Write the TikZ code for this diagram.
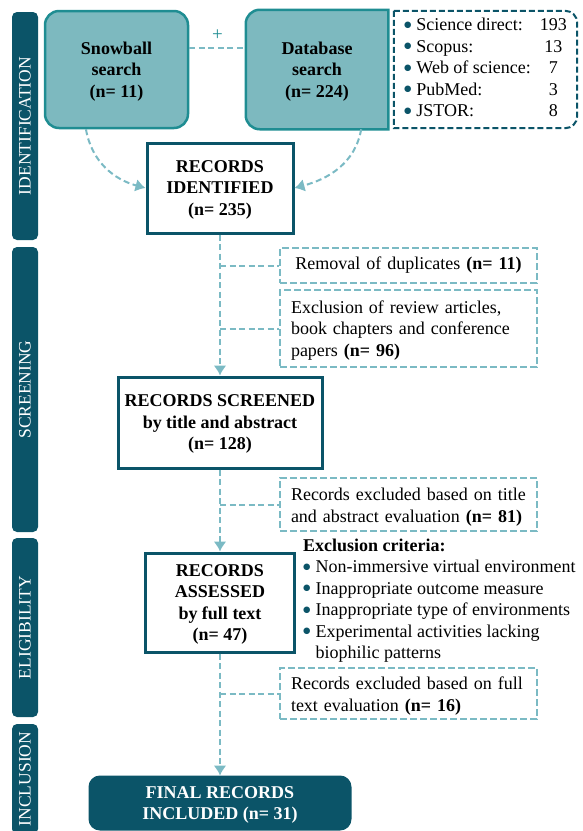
\documentclass[tikz,border=0pt]{standalone}
\usepackage{fontspec}
\setmainfont{Liberation Serif}
\newfontfamily\dotfont{DejaVu Sans}
\usetikzlibrary{positioning, calc, arrows.meta, backgrounds}

\definecolor{deepteal}{HTML}{0B5468}
\definecolor{midteal}{HTML}{1F8D92}
\definecolor{softteal}{HTML}{7DB9BF}
\definecolor{dashteal}{HTML}{7BBAC4}
\newcommand{\bodysize}{\fontsize{18}{21.5}\selectfont}
\newcommand{\blt}{\raisebox{3.4pt}{\textcolor{deepteal}{\dotfont\fontsize{8.5}{9}\selectfont ●}}}

\begin{document}
\begin{tikzpicture}[x=1pt, y=-1pt, node distance = 7pt]
  \tikzstyle{stage}=[fill=deepteal, rounded corners=5pt, rotate=90, minimum height=26pt, inner sep=0, text=white, font=\fontsize{17.5}{21}\selectfont]
  \tikzstyle{search}=[draw=midteal, fill=softteal, line width=2.5pt, rounded corners=14pt, minimum width=143pt, minimum height=117pt, align=center, text depth=-2pt, font=\bodysize\bfseries]
  \tikzstyle{record}=[draw=deepteal, fill=white, line width=3pt, minimum width=146pt, minimum height=90pt, align=center, text depth=-2pt, font=\bodysize\bfseries]
  \tikzstyle{note}=[draw=dashteal, line width=2pt, dash pattern=on 7pt off 3pt, inner xsep=11pt, text width=235pt, align=left, font=\bodysize]
  \tikzstyle{flow}=[draw=dashteal, line width=2pt, dash pattern=on 6pt off 3.5pt]
  \tikzstyle{arrow}=[flow, -{Latex[length=10pt, width=13pt]}]

  \useasboundingbox (0,0) rectangle (582,831);

  % phase bands
  \node [stage, minimum width=228pt] (id-band) at (25, 126) {IDENTIFICATION};
  \node [stage, minimum width=285pt] (scr-band) at (25, 389.5) {SCREENING};
  \node [stage, minimum width=179pt] (eli-band) at (25, 627.5) {ELIGIBILITY};
  \node [stage, minimum width=110pt] (inc-band) at (25, 779) {INCLUSION};

  % searches
  \node [search] (snow) at (116.5, 69.5) {Snowball\\search\\(n= 11)};
  \node [search, draw=none, fill=none, minimum width=140pt] (db) at (317, 69.5) {Database\\search\\(n= 224)};
  \begin{pgfonlayer}{background}
    \filldraw [draw=midteal, fill=softteal, line width=2.5pt] (db.north east) -- ([xshift=14pt]db.north west) arc[start angle=90, end angle=180, radius=14pt] -- ([yshift=14pt]db.south west) arc[start angle=180, end angle=270, radius=14pt] -- (db.south east) -- cycle;
  \end{pgfonlayer}

  \node [minimum width=183pt, minimum height=117pt, inner sep=0, font=\bodysize] (src) at (485.5, 69.5) {%
    \begin{tabular}{@{}c@{\hspace{5pt}}l@{\hspace{9pt}}c@{}}
      \blt & Science direct: & 193\\
      \blt & Scopus: & 13\\
      \blt & Web of science: & 7\\
      \blt & PubMed: & 3\\
      \blt & JSTOR: & 8
    \end{tabular}};
  \draw [deepteal, line width=2pt, dash pattern=on 6pt off 3pt] (src.north west) -- ([xshift=-12pt]src.north east) arc[start angle=90, end angle=0, radius=12pt] -- ([yshift=12pt]src.south east) arc[start angle=0, end angle=-90, radius=12pt] -- (src.south west) -- cycle;

  % records
  \node [record] (ident) at (220, 188) {RECORDS\\IDENTIFIED\\(n= 235)};
  \node [record, minimum width=204pt, minimum height=91pt] (screen) at (220, 422.5) {RECORDS SCREENED\\by title and abstract\\(n= 128)};
  \node [record, minimum width=149pt, minimum height=99pt] (assess) at (220, 602.5) {RECORDS\\ASSESSED\\by full text\\(n= 47)};
  \node [record, fill=deepteal, text=white, rounded corners=10pt, minimum width=260pt, minimum height=52pt] (final) at (220, 803) {FINAL RECORDS\\INCLUDED (n= 31)};

  % exclusions
  \node [note, align=center, minimum height=35pt] (dup) at (408.5, 265.5) {Removal of duplicates \textbf{(n= 11)}};
  \node [note, text depth=43pt, minimum height=77pt] (excl) at (408.5, 328.5) {Exclusion of review articles,\\book chapters and conference\\papers \textbf{(n= 96)}};
  \node [note, text depth=20.5pt, minimum height=53pt] (tex) at (408.5, 504.5) {Records excluded based on title\\and abstract evaluation \textbf{(n= 81)}};
  \node [note, text depth=20.5pt, minimum height=51pt] (fex) at (408.5, 693.5) {Records excluded based on full\\text evaluation \textbf{(n= 16)}};

  \node [anchor=north west, inner sep=0, font=\bodysize] (crit) at (303, 536) {%
    \begin{tabular}{@{}l@{\hspace{5pt}}l@{}}
      \multicolumn{2}{@{}l}{\textbf{Exclusion criteria:}}\\
      \blt & Non-immersive virtual environment\\
      \blt & Inappropriate outcome measure\\
      \blt & Inappropriate type of environments\\
      \blt & Experimental activities lacking\\
           & biophilic patterns
    \end{tabular}};

  % connectors
  \draw [flow] ([yshift=21.5pt]snow.east) -- ([yshift=21.5pt]db.west) node [midway, above=3pt, text=midteal, font=\fontsize{19}{19}\selectfont] (plus) {+};
  \draw [arrow] ($(snow.south west)!0.29!(snow.south east)$) to[out=-80, in=165] (ident.west);
  \draw [arrow] ($(db.south west)!0.81!(db.south east)$) to[out=-100, in=15] (ident.east);

  \draw [arrow] (ident) -- (screen);
  \draw [flow] (ident.south |- dup.west) -- (dup.west);
  \draw [flow] (ident.south |- excl.west) -- (excl.west);
  \draw [arrow] (screen) -- (assess);
  \draw [flow] (screen.south |- tex.west) -- (tex.west);
  \draw [arrow] (assess) -- (final);
  \draw [flow] (assess.south |- fex.west) -- (fex.west);
\end{tikzpicture}
\end{document}
